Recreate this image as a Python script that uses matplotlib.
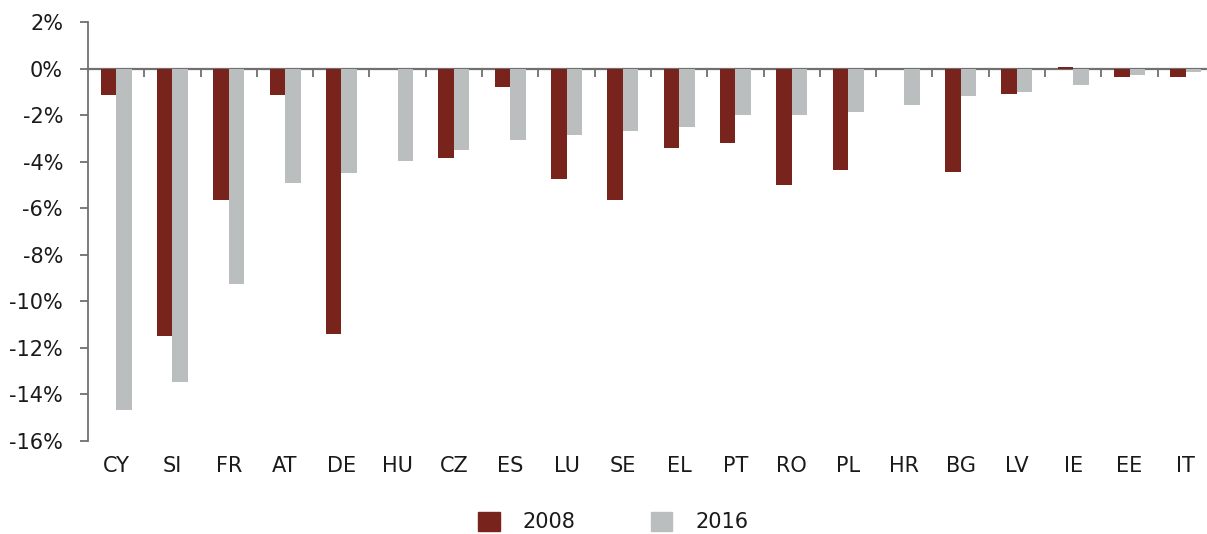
import matplotlib.pyplot as plt
import numpy as np
from matplotlib.patches import Patch

countries = ['CY', 'SI', 'FR', 'AT', 'DE', 'HU', 'CZ', 'ES', 'LU', 'SE',
             'EL', 'PT', 'RO', 'PL', 'HR', 'BG', 'LV', 'IE', 'EE', 'IT']
v2008 = [-1.15, -11.5, -5.65, -1.15, -11.4, 0.0, -3.85, -0.8, -4.75, -5.65,
         -3.4, -3.2, -5.0, -4.35, 0.0, -4.45, -1.1, 0.05, -0.35, -0.35]
v2016 = [-14.65, -13.45, -9.25, -4.9, -4.5, -3.95, -3.5, -3.05, -2.85, -2.7,
         -2.5, -2.0, -2.0, -1.85, -1.55, -1.2, -1.0, -0.7, -0.27, -0.14]
yticks = [2, 0, -2, -4, -6, -8, -10, -12, -14, -16]
ytick_labels = [f'{t}%' for t in yticks]

c2008 = '#79231d'
c2016 = '#bbbebf'
axis_col = '#707070'
txt_col = '#1a1a1a'

plt.rcParams['font.family'] = 'DejaVu Sans'
plt.rcParams['font.size'] = 15

fig = plt.figure(figsize=(12.07, 5.34), dpi=100)
ax = fig.add_axes([88 / 1207, 1 - 441 / 534, (1214 - 88) / 1207, (441 - 22) / 534])

x = np.arange(len(countries))
w = 0.275
ax.bar(x - w / 2, v2008, w, color=c2008, label='2008')
ax.bar(x + w / 2, v2016, w, color=c2016, label='2016')

ymin, ymax = -16, 2
ax.set_ylim(ymin, ymax)
ax.set_xlim(-0.5, len(countries) - 0.5)
ax.set_yticks(yticks)
ax.set_yticklabels(ytick_labels, color=txt_col)
ax.tick_params(axis='y', direction='out', length=6, width=1.3, color=axis_col, pad=12)

# category labels at the bottom, no tick marks
ax.set_xticks(x)
ax.set_xticklabels(countries, color=txt_col)
ax.tick_params(axis='x', length=0, pad=11)

for s in ['top', 'right', 'bottom']:
    ax.spines[s].set_visible(False)
ax.spines['left'].set_color(axis_col)
ax.spines['left'].set_linewidth(1.3)

# zero line with ticks between categories
sec = ax.secondary_xaxis((0 - ymin) / (ymax - ymin))
sec.set_alignment('bottom')
sec.set_xticks(np.arange(0.5, len(countries) - 0.5, 1.0))
sec.set_xticklabels([])
sec.tick_params(direction='out', length=6, width=1.3, color=axis_col)
sec.spines['bottom'].set_color(axis_col)
sec.spines['bottom'].set_linewidth(1.6)

handles = [Patch(color=c2008, label='2008'), Patch(color=c2016, label='2016')]
leg = fig.legend(handles=handles, loc='center', bbox_to_anchor=(0.508, 0.022),
                 ncol=2, frameon=False, handlelength=1.05, handleheight=1.0,
                 handletextpad=1.1, columnspacing=3.6, fontsize=15)
for t in leg.get_texts():
    t.set_color(txt_col)

fig.savefig('out.png', dpi=100)
